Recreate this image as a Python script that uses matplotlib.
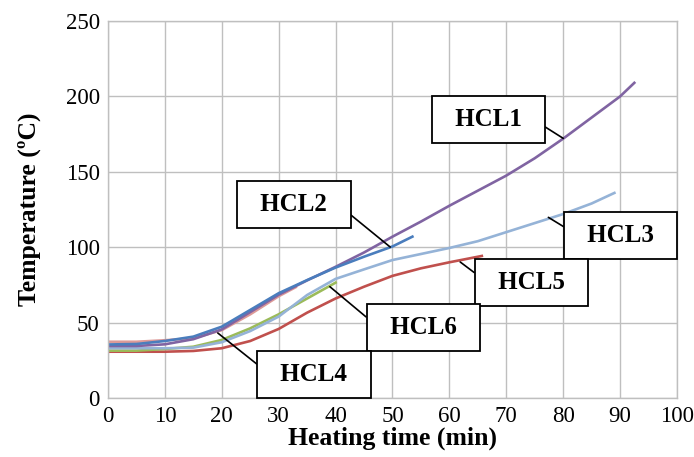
import matplotlib
matplotlib.use("Agg")
import matplotlib.pyplot as plt

# readings taken off the chart (time in min, temperature in degC)
hcl1_t = [0, 5, 10, 15, 20, 25, 30, 35, 40, 45, 50, 55, 60, 65, 70, 75, 80, 85, 90, 92.5]
hcl1_T = [34.5, 34.5, 35.6, 39, 45.5, 57, 68.5, 78, 87, 96.5, 107, 117, 127.5, 137.5, 147.5, 159, 172, 186, 200, 209]

hcl2_t = [0, 5, 10, 15, 20, 25, 30, 35, 40, 45, 50, 53.5]
hcl2_T = [35.5, 35.8, 37.8, 40.7, 47.3, 58.4, 69.5, 78.2, 86.5, 93.7, 100.5, 107]

hcl3_t = [0, 5, 10, 15, 20, 25, 30, 35, 40, 45, 50, 55, 60, 65, 70, 75, 80, 85, 89]
hcl3_T = [33, 33, 33, 33.4, 37, 44.4, 54, 68.3, 79, 85.3, 91.5, 95.5, 99.5, 104, 110, 116, 122, 129, 136]

hcl4_t = [0, 5, 10, 15, 20, 25, 30, 33]
hcl4_T = [37.3, 37.3, 38.3, 39.6, 45, 55.5, 67.5, 73.5]

hcl5_t = [0, 5, 10, 15, 20, 25, 30, 35, 40, 45, 50, 55, 60, 65.7]
hcl5_T = [30.7, 30.7, 30.7, 31.2, 33, 37.8, 45.8, 56.6, 66, 73.8, 81, 86, 90, 94.2]

hcl6_t = [0, 5, 10, 15, 20, 25, 30, 35, 40]
hcl6_T = [31.4, 31.4, 32.5, 34, 38.5, 46.2, 55.5, 66, 76.5]

x_ticks = [0, 10, 20, 30, 40, 50, 60, 70, 80, 90, 100]
y_ticks = [0, 50, 100, 150, 200, 250]

plt.rcParams['font.family'] = ['Liberation Serif', 'DejaVu Serif']

fig = plt.figure(figsize=(6.94, 4.57), dpi=100)
ax = fig.add_axes([0.1556, 0.1291, 0.8199, 0.8249])

lw = 1.9
ax.plot(hcl5_t, hcl5_T, color='#c0504d', lw=lw)
ax.plot(hcl6_t, hcl6_T, color='#9bbb59', lw=lw)
ax.plot(hcl3_t, hcl3_T, color='#95b3d7', lw=lw)
ax.plot(hcl4_t, hcl4_T, color='#dd9a98', lw=lw)
ax.plot(hcl1_t, hcl1_T, color='#8064a2', lw=lw)
ax.plot(hcl2_t, hcl2_T, color='#4a7dbd', lw=lw)

ax.set_xlim(0, 100)
ax.set_ylim(0, 250)
ax.set_xticks(x_ticks)
ax.set_yticks(y_ticks)
ax.tick_params(length=0, labelsize=16.5, pad=6)
ax.grid(True, color='#bfbfbf', lw=1.0)
ax.set_axisbelow(True)
for s in ax.spines.values():
    s.set_color('#bfbfbf')
    s.set_linewidth(1.0)

ax.set_xlabel("Heating time (min)", fontsize=18.5, fontweight='bold')
ax.set_ylabel("Temperature (ºC)", fontsize=18.5, fontweight='bold')
ax.xaxis.set_label_coords(0.5, -0.075)
ax.yaxis.set_label_coords(-0.118, 0.5)

# label boxes: (text, point on curve, box centre, where the leader leaves the box)
labels = [
    ("HCL1", (80.0, 172.2), (66.8, 185), (1, 0.5)),
    ("HCL2", (49.6, 100.1), (32.7, 128), (1, 0.5)),
    ("HCL3", (77.4, 119.8), (90.1, 107.8), (0, 0.55)),
    ("HCL5", (61.9, 90.2), (74.4, 76.9), (0, 0.5)),
    ("HCL6", (39.0, 73.8), (55.4, 46.8), (0, 0.5)),
    ("HCL4", (19.3, 43.1), (36.2, 15.9), (0, 0.5)),
]
pad_txt = " \u2009"
for name, pt, txt, rel in labels:
    ax.annotate(pad_txt + name + pad_txt[::-1], xy=pt, xytext=txt, ha='center', va='center',
                fontsize=18, fontweight='bold',
                bbox=dict(boxstyle='square,pad=0.48', fc='white', ec='black', lw=1.3),
                arrowprops=dict(arrowstyle='-', color='black', lw=1.2,
                                relpos=rel, shrinkA=0, shrinkB=0))

fig.savefig("out.png", dpi=100)
